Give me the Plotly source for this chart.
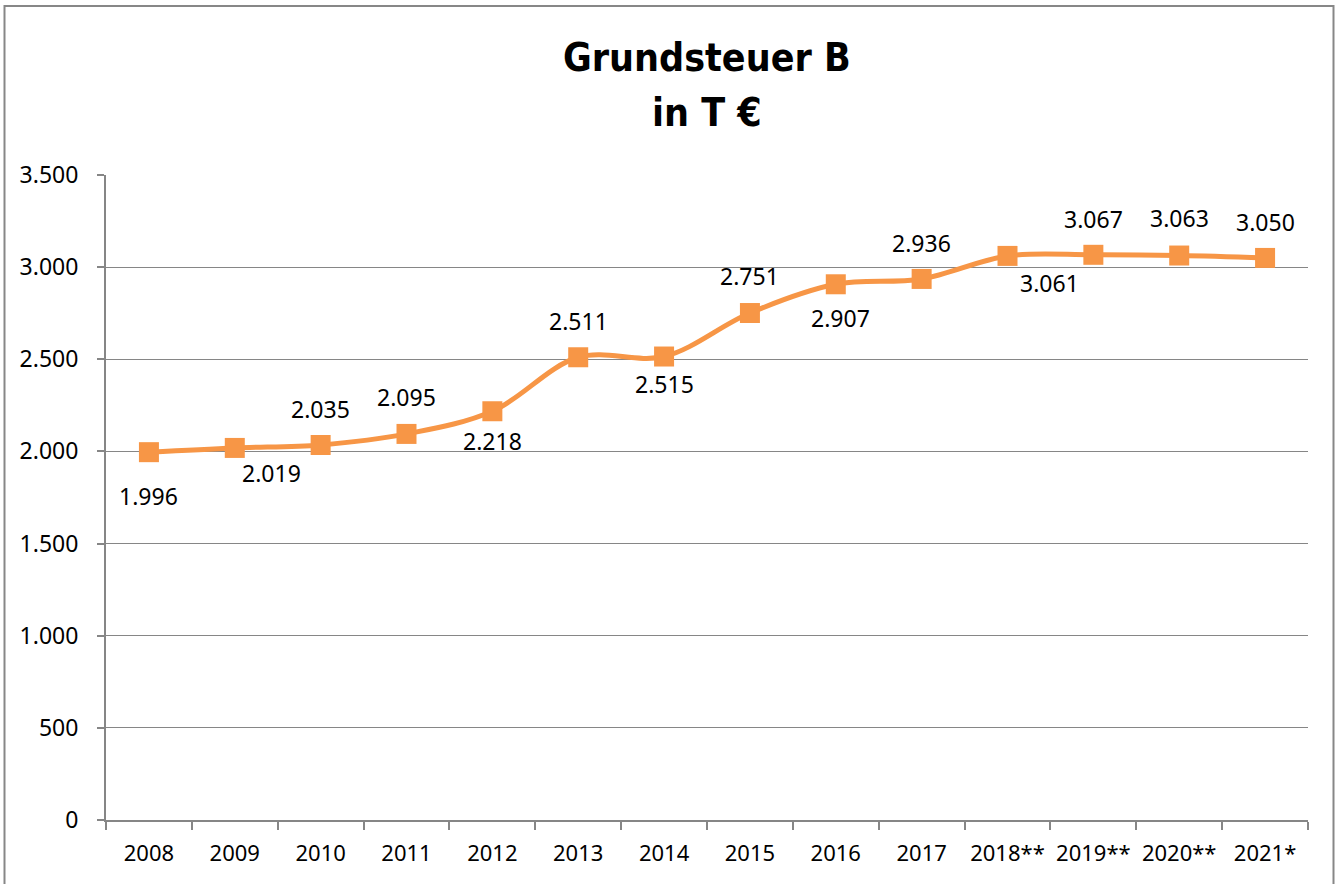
import plotly.graph_objects as go

years = ["2008", "2009", "2010", "2011", "2012", "2013", "2014", "2015",
         "2016", "2017", "2018**", "2019**", "2020**", "2021*"]
values = [1996, 2019, 2035, 2095, 2218, 2511, 2515, 2751, 2907, 2936,
          3061, 3067, 3063, 3050]
y_ticks = [0, 500, 1000, 1500, 2000, 2500, 3000, 3500]
title_lines = ["Grundsteuer B", "in T €"]

# label offsets in pixels (dx right, dy down) relative to each point
label_offsets = [(0, 44), (37, 25), (0, -36), (0, -37), (0, 30), (0, -36),
                 (0, 27), (0, -37), (5, 34), (0, -36), (42, 27), (0, -36),
                 (0, -38), (0, -36)]

ORANGE = "#F79646"
GRID = "#868686"
FONT = "Noto Sans, Roboto, DejaVu Sans, sans-serif"
TITLE_FONT = "Liberation Sans Narrow, Arial Narrow, DejaVu Sans Condensed, sans-serif"


def de_fmt(v):
    return f"{v:,}".replace(",", ".")


W, H = 1338, 884
L, R, T, B = 106, 30, 175, 64

fig = go.Figure()
fig.add_trace(go.Scatter(
    x=years, y=values, mode="lines+markers",
    line=dict(color=ORANGE, width=5, shape="spline", smoothing=1),
    marker=dict(symbol="square", size=20, color=ORANGE),
    hoverinfo="x+y", showlegend=False,
))

annotations = []
for i, (v, (dx, dy)) in enumerate(zip(values, label_offsets)):
    annotations.append(dict(
        x=i, y=v, xref="x", yref="y", text=de_fmt(v), showarrow=False,
        xanchor="center", yanchor="middle", xshift=dx, yshift=-dy,
        font=dict(family=FONT, size=23, color="#000000"),
    ))

plot_h = H - T - B
for line, ypix in zip(title_lines, [57, 113]):
    annotations.append(dict(
        x=0.5, y=(H - B - ypix) / plot_h, xref="paper", yref="paper",
        text=f"<b>{line}</b>", showarrow=False, xanchor="center", yanchor="middle",
        font=dict(family=TITLE_FONT, size=39, color="#000000"),
    ))

plot_w = W - L - R
border = dict(
    type="rect", xref="paper", yref="paper", layer="above",
    x0=(4.5 - L) / plot_w, x1=(1333.5 - L) / plot_w,
    y0=(H - B - 900) / plot_h, y1=(H - B - 6) / plot_h,
    line=dict(color="#878787", width=2), fillcolor="rgba(0,0,0,0)",
)

fig.update_layout(
    width=W, height=H,
    margin=dict(l=L, r=R, t=T, b=B, autoexpand=False),
    paper_bgcolor="white", plot_bgcolor="white",
    separators=",.",
    annotations=annotations,
    shapes=[border],
    font=dict(family=FONT, size=23, color="#000000"),
)
fig.update_xaxes(
    type="category", range=[-0.5, len(years) - 0.5],
    showline=True, linecolor=GRID, linewidth=2,
    ticks="outside", tickson="boundaries", ticklen=8, tickcolor=GRID, tickwidth=2,
    showgrid=False, ticklabelstandoff=13, tickangle=0,
    tickfont=dict(family=FONT, size=22, color="#000000"),
)
fig.update_yaxes(
    range=[0, 3500], tickvals=y_ticks, tickformat=",d",
    showline=True, linecolor=GRID, linewidth=2,
    ticks="outside", ticklen=7, tickcolor=GRID, tickwidth=2,
    showgrid=True, gridcolor=GRID, gridwidth=1, zeroline=False,
    ticklabelstandoff=14,
    tickfont=dict(family=FONT, size=23, color="#000000"),
)

fig.write_html("out.html", config={"displayModeBar": False},
               post_script="document.body.style.margin='0';")
